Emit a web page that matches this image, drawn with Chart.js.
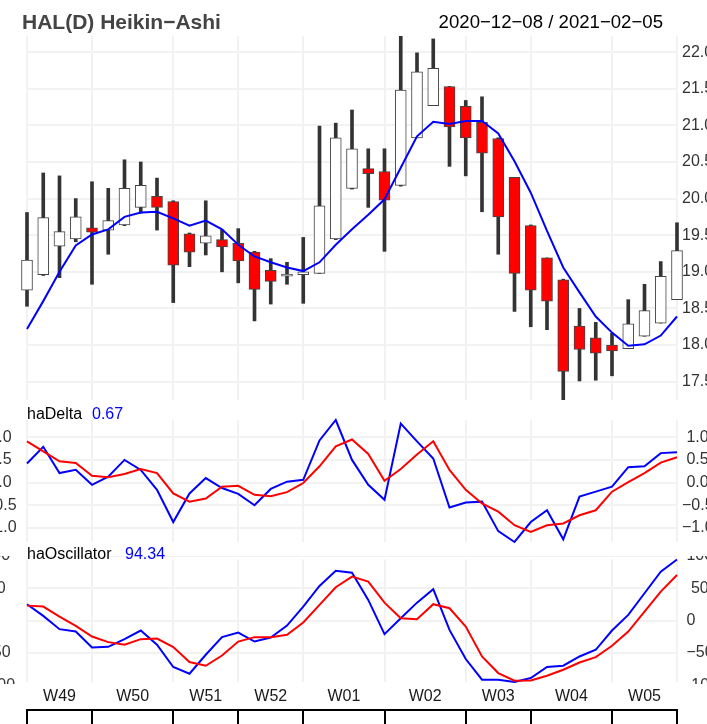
<!DOCTYPE html>
<html>
<head>
<meta charset="utf-8">
<script src="https://cdn.jsdelivr.net/npm/chart.js@4.4.1/dist/chart.umd.min.js"></script>
<style>
  body { margin: 0; background: #fff; width: 707px; height: 724px; overflow: hidden; position: relative;
         font-family: "Liberation Sans", Arial, sans-serif; }
  canvas { position: absolute; left: -21px; }
  .txt { position: absolute; white-space: pre; line-height: 1; z-index: 5; }
</style>
</head>
<body>
<div class="txt" style="left:22px; top:10.5px; font-size:21px; font-weight:bold; color:#444;">HAL(D) Heikin−Ashi</div>
<div class="txt" style="right:44px; top:12.6px; font-size:18.6px; color:#000;">2020−12−08 / 2021−02−05</div>
<div class="txt" style="left:27px; top:405.5px; font-size:16px; color:#000;">haDelta</div>
<div class="txt" id="deltaLast" style="left:92px; top:405.5px; font-size:16px; color:#0000ff;"></div>
<div class="txt" style="left:27px; top:545.5px; font-size:16px; color:#000;">haOscillator</div>
<div class="txt" id="oscLast" style="left:125px; top:545.5px; font-size:16px; color:#0000ff;"></div>

<canvas id="priceChart" width="728" height="375" style="top:30px"></canvas>
<canvas id="deltaChart" width="728" height="132" style="top:415px"></canvas>
<canvas id="oscChart" width="728" height="128" style="top:556px"></canvas>
<canvas id="axisChart" width="728" height="49" style="top:675px"></canvas>

<script>
const dates = [
  '2020-12-08', '2020-12-09', '2020-12-10', '2020-12-11',
  '2020-12-14', '2020-12-15', '2020-12-16', '2020-12-17', '2020-12-18',
  '2020-12-21', '2020-12-22', '2020-12-23', '2020-12-24',
  '2020-12-28', '2020-12-29', '2020-12-30', '2020-12-31',
  '2021-01-04', '2021-01-05', '2021-01-06', '2021-01-07', '2021-01-08',
  '2021-01-11', '2021-01-12', '2021-01-13', '2021-01-14', '2021-01-15',
  '2021-01-19', '2021-01-20', '2021-01-21', '2021-01-22',
  '2021-01-25', '2021-01-26', '2021-01-27', '2021-01-28', '2021-01-29',
  '2021-02-01', '2021-02-02', '2021-02-03', '2021-02-04', '2021-02-05'
];

// Heikin-Ashi candles
const haOpen = [18.75, 18.96, 19.35, 19.45, 19.60, 19.57, 19.64, 19.88, 20.03, 19.96, 19.52, 19.39, 19.44, 19.39,
  19.27, 19.02, 18.94, 18.96, 18.98, 19.45, 20.14, 20.41, 20.37, 20.18, 20.83, 21.27, 21.53, 21.26, 21.04, 20.82,
  20.29, 19.63, 19.19, 18.89, 18.26, 18.10, 18.00, 17.95, 18.12, 18.30, 18.62];
const haHigh = [19.81, 20.35, 20.31, 20.00, 20.23, 20.14, 20.53, 20.50, 20.28, 19.97, 19.53, 19.97, 19.57, 19.59,
  19.28, 19.18, 19.13, 19.47, 20.99, 21.03, 21.21, 20.68, 20.68, 22.22, 21.99, 22.18, 21.53, 21.34, 21.39, 20.83,
  20.29, 19.64, 19.19, 18.90, 18.50, 18.31, 18.16, 18.62, 18.83, 19.14, 19.67];
const haLow = [18.53, 18.95, 18.92, 19.41, 18.83, 19.24, 19.63, 19.80, 19.57, 18.58, 19.07, 19.23, 19.00, 18.85,
  18.33, 18.56, 18.83, 18.57, 18.98, 19.44, 20.13, 19.88, 19.28, 20.17, 20.83, 21.27, 20.44, 20.31, 19.82, 19.24,
  18.46, 18.25, 18.21, 17.25, 17.51, 17.52, 17.58, 17.95, 18.12, 18.30, 18.62];
const haClose = [19.16, 19.74, 19.55, 19.75, 19.54, 19.70, 20.14, 20.18, 19.88, 19.09, 19.27, 19.49, 19.34, 19.15,
  18.76, 18.87, 18.97, 19.00, 19.90, 20.83, 20.68, 20.34, 19.98, 21.48, 21.73, 21.78, 20.98, 20.83, 20.62, 19.75,
  18.98, 18.75, 18.60, 17.64, 17.94, 17.89, 17.92, 18.29, 18.47, 18.94, 19.29];
// blue line in the price panel
const haTrend = [18.22, 18.60, 19.00, 19.36, 19.51, 19.58, 19.75, 19.81, 19.82, 19.73, 19.63, 19.70, 19.58, 19.37,
  19.21, 19.13, 19.06, 19.01, 19.13, 19.37, 19.58, 19.78, 19.99, 20.42, 20.85, 21.05, 21.02, 21.06, 21.06, 20.89,
  20.51, 20.08, 19.56, 19.06, 18.72, 18.39, 18.17, 17.99, 18.01, 18.13, 18.39];

const haDelta = [0.42, 0.79, 0.21, 0.28, -0.05, 0.13, 0.50, 0.28, -0.16, -0.87, -0.24, 0.10, -0.12, -0.25, -0.50,
  -0.14, 0.02, 0.06, 0.93, 1.38, 0.50, -0.05, -0.38, 1.30, 0.91, 0.53, -0.55, -0.44, -0.42, -1.07, -1.31, -0.87,
  -0.61, -1.25, -0.31, -0.20, -0.09, 0.34, 0.36, 0.65, 0.67];
const haDeltaSignal = [0.91, 0.69, 0.47, 0.43, 0.15, 0.12, 0.19, 0.30, 0.21, -0.24, -0.42, -0.35, -0.09, -0.07,
  -0.27, -0.30, -0.21, -0.01, 0.36, 0.80, 0.95, 0.63, 0.04, 0.30, 0.62, 0.91, 0.28, -0.16, -0.46, -0.64, -0.94,
  -1.09, -0.94, -0.90, -0.72, -0.61, -0.20, 0.01, 0.21, 0.44, 0.56];

const haOsc = [25.4, 7.4, -13.1, -16.8, -41.4, -40.3, -28.5, -15.2, -37.2, -71.5, -81.8, -52.6, -25.4, -18.3, -32.2,
  -26.0, -7.5, 21.7, 53.5, 77.1, 74.0, 32.0, -20.8, 3.8, 27.8, 48.5, -14.2, -59.2, -91.1, -91.1, -94.6, -88.5,
  -71.5, -69.5, -55.2, -44.9, -15.2, 8.9, 42.3, 75.5, 94.34];
const haOscSignal = [23.2, 21.7, 6.3, -8.0, -24.5, -33.1, -37.2, -28.5, -27.5, -40.8, -63.8, -69.5, -53.7, -32.2,
  -25.4, -25.4, -21.8, -2.9, 24.3, 51.5, 68.0, 60.2, 27.8, 3.8, 2.3, 25.4, 19.2, -9.1, -55.2, -80.8, -92.6, -92.2,
  -84.9, -75.7, -64.5, -56.2, -38.8, -16.8, 14.0, 44.8, 70.5];

const weekLabels = ['W49', 'W50', 'W51', 'W52', 'W01', 'W02', 'W03', 'W04', 'W05'];
const priceTicks = [17.5, 18.0, 18.5, 19.0, 19.5, 20.0, 20.5, 21.0, 21.5, 22.0];
const deltaTicks = [-1, -0.5, 0, 0.5, 1];
const deltaTickText = ['−1.0', '−0.5', ' 0.0', ' 0.5', ' 1.0'];
const oscTicks = [-100, -50, 0, 50, 100];
const oscTickText = ['−100', ' −50', ' 0', '  50', ' 100'];

const gridColor = '#f2f2f2';
Chart.defaults.font.family = '"Liberation Sans", Arial, sans-serif';
Chart.defaults.font.size = 16;
Chart.defaults.color = '#333';

// week boundaries (first trading day of each week) and week middles
const weekStarts = [];
dates.forEach(function (d, i) {
    const day = new Date(d + 'T00:00:00Z').getUTCDay();
    const prevDay = i > 0 ? new Date(dates[i - 1] + 'T00:00:00Z').getUTCDay() : 9;
    if (day < prevDay) weekStarts.push(i);
});
const lastIdx = dates.length - 1;
const weekEdges = weekStarts.concat([lastIdx]);
const weekMids = weekStarts.map(function (s, k) { return (s + weekEdges[k + 1]) / 2; });

document.getElementById('deltaLast').textContent = haDelta[lastIdx].toFixed(2);
document.getElementById('oscLast').textContent = haOsc[lastIdx].toFixed(2);

function setTicks(values) {
    return function (scale) { scale.ticks = values.map(function (v) { return { value: v }; }); };
}
// fixed axis sizes, and no extra room for labels sitting at the ends
function fixedWidth(w) {
    return function (scale) { scale.width = w; scale.paddingTop = 0; scale.paddingBottom = 0; };
}
function fixedHeight(h) {
    return function (scale) { scale.height = h; scale.paddingLeft = 0; scale.paddingRight = 0; };
}

const baseOptions = {
    responsive: false,
    animation: false,
    events: [],
    devicePixelRatio: 1,
    plugins: { legend: { display: false }, tooltip: { enabled: false } }
};

function timeAxis() {
    return {
        type: 'linear', min: 0, max: lastIdx, bounds: 'data', offset: false,
        afterBuildTicks: setTicks(weekEdges), afterFit: fixedHeight(0),
        ticks: { display: false },
        grid: { color: gridColor, lineWidth: 2, drawTicks: false, offset: false },
        border: { display: false }
    };
}

function createPriceChart() {
    const ctx = document.getElementById('priceChart').getContext('2d');
    const bodies = dates.map(function (d, i) { return { x: i, y: [haOpen[i], haClose[i]] }; });
    const wicks = dates.map(function (d, i) { return { x: i, y: [haLow[i], haHigh[i]] }; });
    const bodyColors = dates.map(function (d, i) { return haClose[i] < haOpen[i] ? '#ff0000' : '#ffffff'; });
    const candleClip = { left: 8, right: 8, top: 0, bottom: 0 };
    new Chart(ctx, {
        type: 'bar',
        data: {
            datasets: [{
                type: 'line',
                data: haTrend.map(function (v, i) { return { x: i, y: v }; }),
                borderColor: '#0000ff',
                borderWidth: 2,
                pointRadius: 0,
                tension: 0,
                order: 0,
                clip: false
            }, {
                data: bodies,
                backgroundColor: bodyColors,
                borderColor: '#444',
                borderWidth: 1,
                borderSkipped: false,
                barThickness: 11,
                grouped: false,
                order: 1,
                clip: candleClip
            }, {
                data: wicks,
                backgroundColor: '#333',
                borderWidth: 0,
                barThickness: 3,
                grouped: false,
                order: 2,
                clip: candleClip
            }]
        },
        options: Object.assign({}, baseOptions, {
            layout: { padding: { left: 48, top: 6, bottom: 5, right: 0 } },
            scales: {
                x: timeAxis(),
                y: {
                    position: 'right', bounds: 'data',
                    min: Math.min.apply(null, haLow), max: Math.max.apply(null, haHigh),
                    afterBuildTicks: setTicks(priceTicks), afterFit: fixedWidth(30),
                    ticks: { padding: 5, autoSkip: false, color: '#333', callback: function (v) { return v.toFixed(1); } },
                    grid: { color: gridColor, lineWidth: 2, drawTicks: false },
                    border: { display: false }
                }
            }
        })
    });
}

function createSubChart(canvasId, blue, red, ticks, tickText, pad) {
    const ctx = document.getElementById(canvasId).getContext('2d');
    const all = blue.concat(red);
    const min = Math.min.apply(null, all);
    const max = Math.max.apply(null, all);
    new Chart(ctx, {
        type: 'line',
        data: {
            datasets: [{
                data: red.map(function (v, i) { return { x: i, y: v }; }),
                borderColor: '#ff0000', borderWidth: 2, pointRadius: 0, tension: 0,
                yAxisID: 'yr', order: 0, clip: false
            }, {
                data: blue.map(function (v, i) { return { x: i, y: v }; }),
                borderColor: '#0000ff', borderWidth: 2, pointRadius: 0, tension: 0,
                yAxisID: 'yr', order: 1, clip: false
            }]
        },
        options: Object.assign({}, baseOptions, {
            layout: { padding: { left: pad.left, top: pad.top, bottom: pad.bottom, right: 0 } },
            scales: {
                x: timeAxis(),
                yl: {
                    position: 'left', min: min, max: max, bounds: 'data',
                    afterBuildTicks: setTicks(ticks), afterFit: fixedWidth(48 - pad.left),
                    ticks: { crossAlign: 'far', autoSkip: false, color: '#333',
                             callback: function (v, i) { return tickText[i]; } },
                    grid: { display: false },
                    border: { display: false }
                },
                yr: {
                    position: 'right', min: min, max: max, bounds: 'data',
                    afterBuildTicks: setTicks(ticks), afterFit: fixedWidth(30),
                    ticks: { padding: 5, autoSkip: false, color: '#333',
                             callback: function (v, i) { return tickText[i]; } },
                    grid: { color: gridColor, lineWidth: 2, drawTicks: false },
                    border: { display: false }
                }
            }
        })
    });
}

function createTimeAxis() {
    const ctx = document.getElementById('axisChart').getContext('2d');
    new Chart(ctx, {
        type: 'line',
        data: { datasets: [] },
        options: Object.assign({}, baseOptions, {
            layout: { padding: { left: 48, right: 30, top: 0, bottom: 0 } },
            scales: {
                xl: {
                    type: 'linear', axis: 'x', position: 'bottom', weight: 0,
                    min: 0, max: lastIdx, bounds: 'data',
                    afterBuildTicks: setTicks(weekMids), afterFit: fixedHeight(30.6),
                    ticks: { padding: 0, autoSkip: false, maxRotation: 0, color: '#1a1a1a',
                             callback: function (v, i) { return weekLabels[i]; } },
                    grid: { display: false },
                    border: { display: false }
                },
                xb: {
                    type: 'linear', axis: 'x', position: 'bottom', weight: 1,
                    min: 0, max: lastIdx, bounds: 'data',
                    afterBuildTicks: setTicks(weekEdges), afterFit: fixedHeight(14),
                    ticks: { display: false },
                    grid: { drawOnChartArea: false, drawTicks: true, tickLength: 14, color: '#000', lineWidth: 2 },
                    border: { display: true, color: '#000', width: 2 }
                },
                y: { display: false }
            }
        })
    });
}

createPriceChart();
createSubChart('deltaChart', haDelta, haDeltaSignal, deltaTicks, deltaTickText, { left: 6, top: 5, bottom: 5 });
createSubChart('oscChart', haOsc, haOscSignal, oscTicks, oscTickText, { left: 0, top: 3.5, bottom: 2 });
createTimeAxis();
</script>
</body>
</html>
